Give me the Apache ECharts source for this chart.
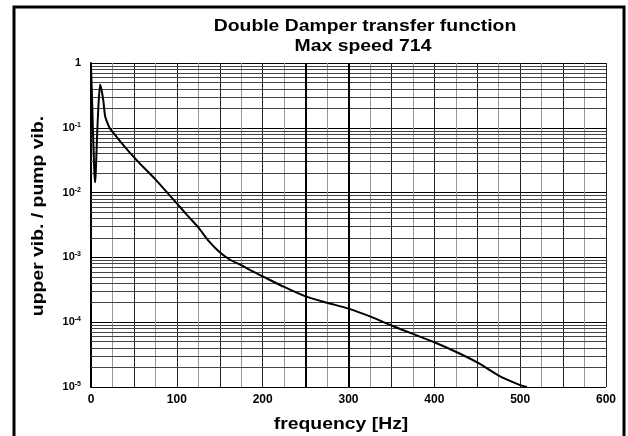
<!DOCTYPE html>
<html>
<head>
    <meta charset="utf-8">
    <script src="https://cdn.jsdelivr.net/npm/echarts@6/dist/echarts.min.js"></script>
    <style>
        body { margin: 0; background: #fff; }
    </style>
</head>
<body>
    <div id="main" style="width:628px; height:436px"></div>
    <script type="text/javascript">
        // frequency [Hz] and transfer ratio
        var freq = [0, 1, 2, 3, 4, 4.7, 5.5, 7, 8.5, 10.5, 12, 14.4, 16.3, 19, 22, 30, 37.7, 45.5, 57, 75,
                    100, 112, 125, 137, 150, 162, 175, 185, 200, 225, 250, 275, 300, 325, 350, 375,
                    400, 425, 450, 475, 500, 508];
        var ratio = [0.9, 0.35, 0.12, 0.045, 0.02, 0.0145, 0.02, 0.07, 0.2, 0.46, 0.4, 0.26, 0.155, 0.12, 0.098, 0.072, 0.054, 0.041, 0.028, 0.016,
                     0.0068, 0.0045, 0.0029, 0.0018, 0.0012, 0.00092, 0.00076, 0.00064, 0.00051, 0.00035, 0.00025, 0.0002, 0.000162, 0.000123, 0.000089, 0.000066,
                     0.000049, 0.000035, 0.000024, 0.000015, 0.0000107, 0.00001];
        // decades of the log axis and the minor steps inside each
        var decades = [-5, -4, -3, -2, -1];
        var minorSteps = [2, 3, 4, 5, 6, 7, 8, 9];
        var boldLinesX = [250, 300];
        var xMin = 0, xMax = 600;

        var pts = freq.map(function (f, i) { return [f, ratio[i]]; });

        // minor horizontal grid lines, drawn as segments through the axes
        var minorLines = [];
        decades.forEach(function (d) {
            minorSteps.forEach(function (s) {
                var y = s * Math.pow(10, d);
                minorLines.push({ coords: [[xMin, y], [xMax, y]] });
            });
        });
        var boldLines = boldLinesX.map(function (x) {
            return { coords: [[x, 0.00001], [x, 1]] };
        });

        var font = 'Liberation Sans, Arial, sans-serif';
        function label(txt, x, y, rot) {
            return {
                type: 'text',
                x: x,
                y: y,
                rotation: rot || 0,
                scaleX: 1.14,
                silent: true,
                style: {
                    text: txt,
                    fontSize: 17,
                    fontWeight: 'bold',
                    fontFamily: font,
                    fill: '#000',
                    textAlign: 'center',
                    textVerticalAlign: 'middle'
                }
            };
        }

        var myChart = echarts.init(document.getElementById('main'));
        var option = {
            animation: false,
            textStyle: { fontFamily: font },
            grid: { left: 91, right: 22, top: 63, bottom: 49 },
            xAxis: {
                type: 'value',
                min: xMin,
                max: xMax,
                interval: 50,
                axisLine: { show: false },
                axisTick: { show: false },
                axisLabel: {
                    margin: 7,
                    fontSize: 12,
                    fontWeight: 'bold',
                    color: '#000',
                    formatter: function (v) { return v % 100 === 0 ? v : ''; }
                },
                splitLine: { lineStyle: { color: '#222', width: 1 } },
                minorTick: { show: false, splitNumber: 2 },
                minorSplitLine: { show: true, lineStyle: { color: '#999', width: 1 } }
            },
            yAxis: {
                type: 'log',
                logBase: 10,
                min: 0.00001,
                max: 1,
                axisLine: { show: true, lineStyle: { color: '#000', width: 2 } },
                axisTick: { show: false },
                axisLabel: {
                    margin: 10,
                    fontSize: 11,
                    fontWeight: 'bold',
                    color: '#000',
                    formatter: function (v) {
                        var e = Math.round(Math.log10(v));
                        return e === 0 ? '1' : '10{s|' + e + '}';
                    },
                    rich: {
                        s: { fontSize: 7, fontWeight: 'bold', color: '#000', verticalAlign: 'top', padding: [0, 0, 6, 0] }
                    }
                },
                splitLine: { lineStyle: { color: '#000', width: 1 } }
            },
            graphic: [
                {
                    type: 'rect',
                    shape: { x: 14, y: 7, width: 610, height: 440 },
                    style: { fill: 'none', stroke: '#000', lineWidth: 3 },
                    silent: true
                },
                label('Double Damper transfer function', 365, 26),
                label('Max speed 714', 363, 46),
                label('upper vib. / pump vib.', 38, 216, Math.PI / 2),
                label('frequency [Hz]', 341, 424)
            ],
            series: [
                {
                    type: 'lines',
                    coordinateSystem: 'cartesian2d',
                    silent: true,
                    z: 1,
                    lineStyle: { color: '#444', width: 1, opacity: 1 },
                    data: minorLines
                },
                {
                    type: 'lines',
                    coordinateSystem: 'cartesian2d',
                    silent: true,
                    z: 1,
                    lineStyle: { color: '#000', width: 2, opacity: 1 },
                    data: boldLines
                },
                {
                    name: 'transfer',
                    type: 'line',
                    z: 3,
                    showSymbol: false,
                    smooth: 0.2,
                    lineStyle: { color: '#000', width: 2 },
                    data: pts
                }
            ]
        };
        myChart.setOption(option);
    </script>
</body>
</html>
